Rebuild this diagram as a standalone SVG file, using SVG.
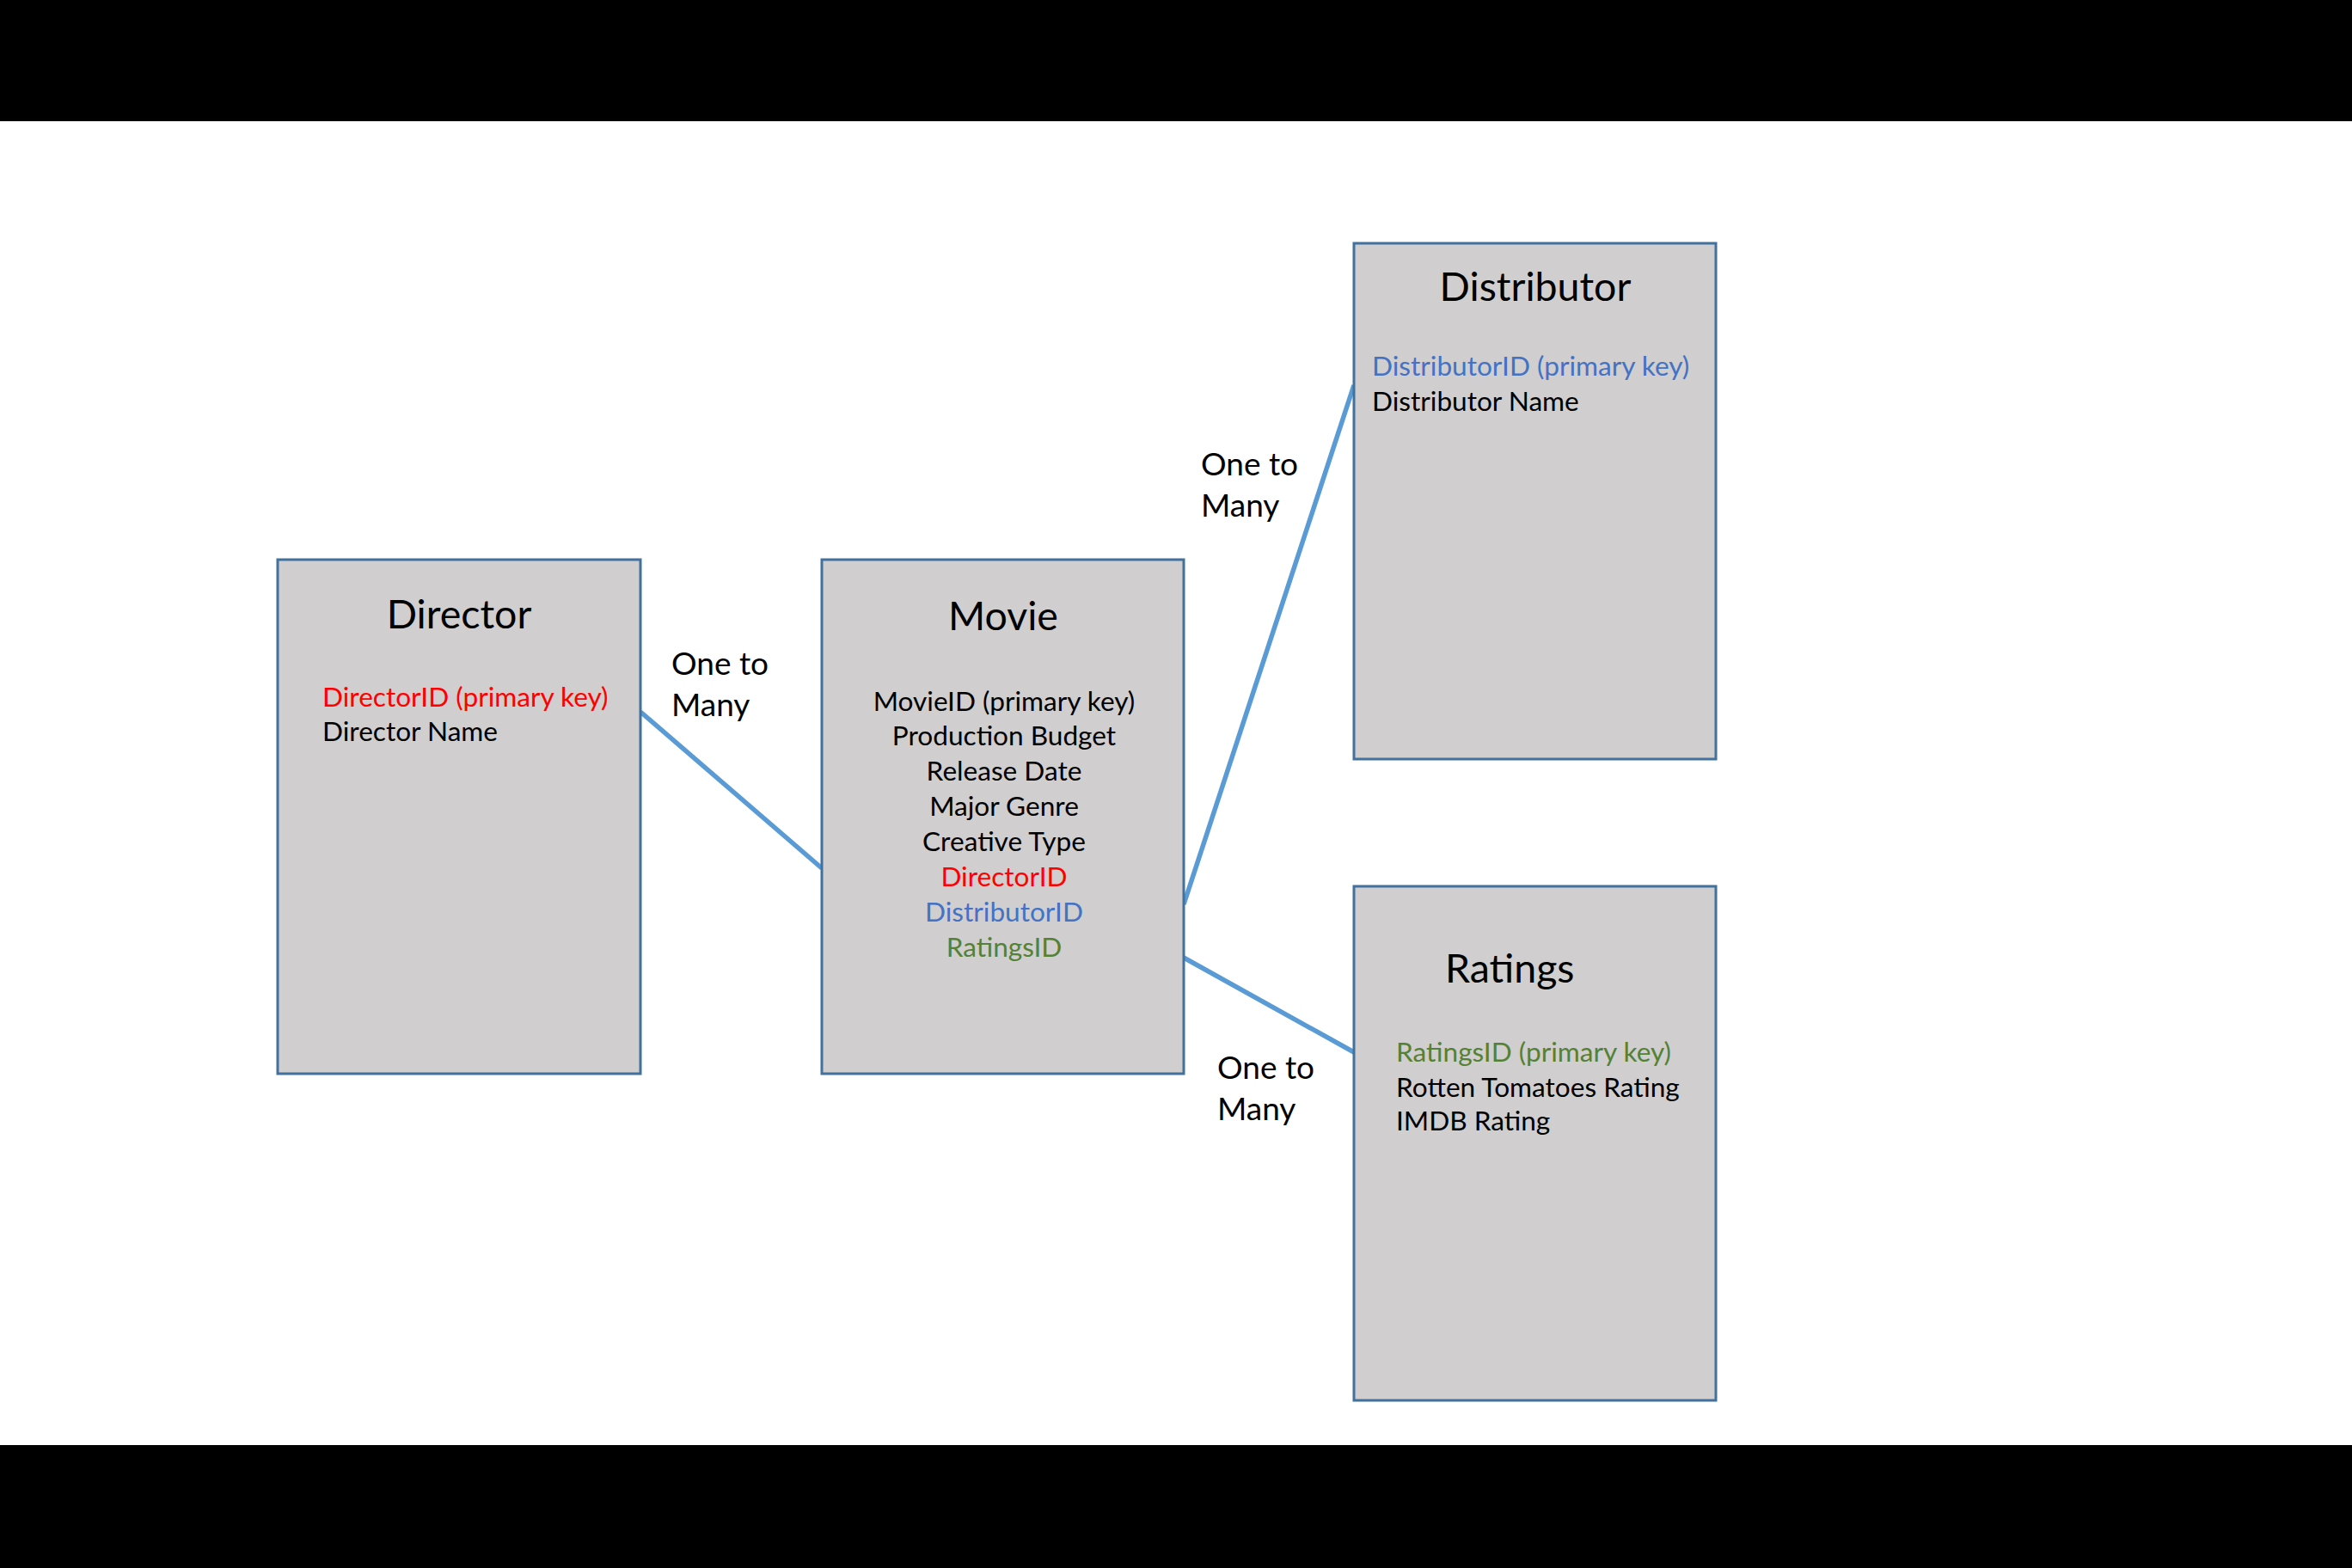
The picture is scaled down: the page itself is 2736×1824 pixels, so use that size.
<svg xmlns="http://www.w3.org/2000/svg" width="2736" height="1824" viewBox="0 0 2736 1824">
<style>
.box{fill:#D0CECE;stroke:#41719C;stroke-width:3}
.title{font-family:Lato,"Liberation Sans",sans-serif;font-size:46.5px;fill:#000}
.body{font-family:Lato,"Liberation Sans",sans-serif;font-size:31.6px;fill:#000}
.lbl{font-family:Lato,"Liberation Sans",sans-serif;font-size:37px;fill:#000}
.red{fill:#FF0000}.blue{fill:#4472C4}.green{fill:#548235}
.conn{stroke:#5B9BD5;stroke-width:5.5;fill:none}
</style>
<rect x="0" y="0" width="2736" height="1824" fill="#FFFFFF"/>
<rect x="0" y="0" width="2736" height="141" fill="#000000"/>
<rect x="0" y="1681" width="2736" height="143" fill="#000000"/>
<g id="connectors">
<line class="conn" x1="745" y1="828" x2="956" y2="1010"/>
<line class="conn" x1="1377" y1="1052" x2="1575" y2="448"/>
<line class="conn" x1="1377" y1="1114" x2="1575" y2="1224"/>
</g>
<g id="director">
<rect class="box" x="323" y="651" width="422" height="598"/>
<text class="title" x="534" y="731" text-anchor="middle">Director</text>
<text class="body red" x="375" y="822">DirectorID (primary key)</text>
<text class="body" x="375" y="862">Director Name</text>
</g>
<g id="movie">
<rect class="box" x="956" y="651" width="421" height="598"/>
<text class="title" x="1167" y="733" text-anchor="middle">Movie</text>
<g text-anchor="middle">
<text class="body" x="1168" y="827">MovieID (primary key)</text>
<text class="body" x="1168" y="867">Production Budget</text>
<text class="body" x="1168" y="908">Release Date</text>
<text class="body" x="1168" y="949">Major Genre</text>
<text class="body" x="1168" y="990">Creative Type</text>
<text class="body red" x="1168" y="1031">DirectorID</text>
<text class="body blue" x="1168" y="1072">DistributorID</text>
<text class="body green" x="1168" y="1113">RatingsID</text>
</g>
</g>
<g id="distributor">
<rect class="box" x="1575" y="283" width="421" height="600"/>
<text class="title" x="1786" y="350" text-anchor="middle">Distributor</text>
<text class="body blue" x="1596" y="437">DistributorID (primary key)</text>
<text class="body" x="1596" y="478">Distributor Name</text>
</g>
<g id="ratings">
<rect class="box" x="1575" y="1031" width="421" height="598"/>
<text class="title" x="1681" y="1143">Ratings</text>
<text class="body green" x="1624" y="1235">RatingsID (primary key)</text>
<text class="body" x="1624" y="1276">Rotten Tomatoes Rating</text>
<text class="body" x="1624" y="1315">IMDB Rating</text>
</g>
<g id="labels">
<text class="lbl" x="781" y="785">One to</text>
<text class="lbl" x="781" y="833">Many</text>
<text class="lbl" x="1397" y="553">One to</text>
<text class="lbl" x="1397" y="601">Many</text>
<text class="lbl" x="1416" y="1255">One to</text>
<text class="lbl" x="1416" y="1303">Many</text>
</g>
</svg>
